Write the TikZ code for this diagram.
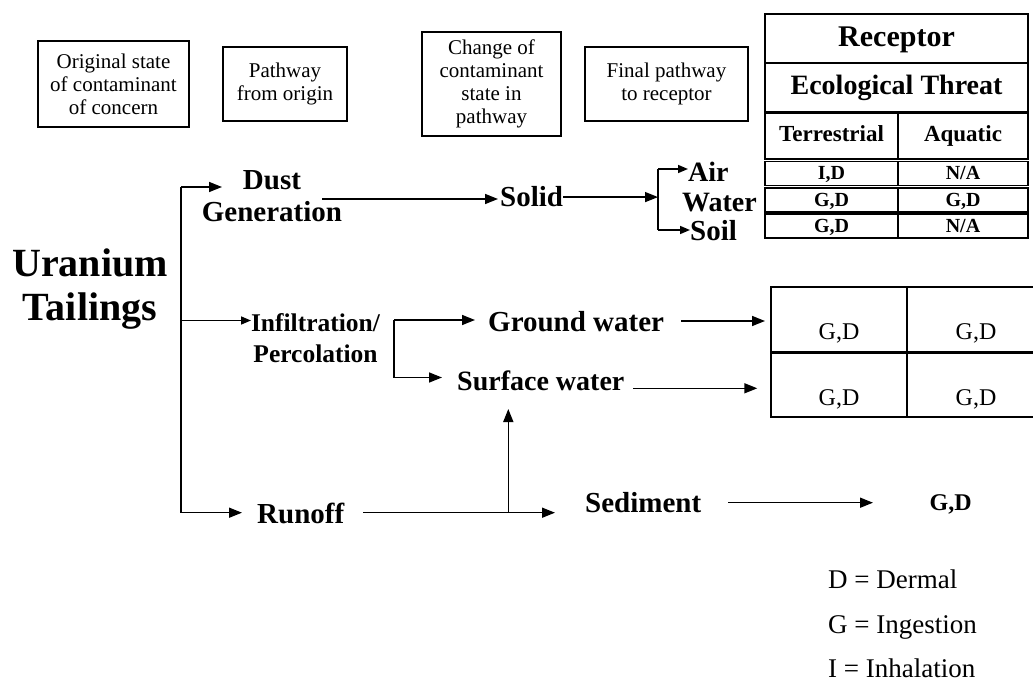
\documentclass[tikz,border=0pt]{standalone}
\usepackage{fontspec}
\setmainfont{Liberation Serif}
\newfontfamily\tnr{Liberation Serif}
\usetikzlibrary{arrows.meta}
\begin{document}
\begin{tikzpicture}[x=1pt,y=-1pt,
  lw/.style={line width=1.5pt},
  arr/.style={lw,-{Triangle[length=13pt,width=10pt]}},
  sarr/.style={lw,-{Triangle[length=10pt,width=8pt]}},
  hdr/.style={draw,lw,align=center,inner sep=0pt,font=\tnr\fontsize{21}{23}\selectfont},
  bt/.style={inner sep=0pt,font=\tnr\bfseries\fontsize{29}{32}\selectfont},
  cell/.style={draw,lw,inner sep=0pt,font=\tnr\bfseries\fontsize{20}{24}\selectfont},
  dcell/.style={cell,text height=16pt,text depth=3pt,minimum height=24pt},
  gcell/.style={draw,lw,inner sep=0pt,text height=41pt,text depth=0pt,font=\tnr\fontsize{24}{28}\selectfont},
  leg/.style={anchor=base west,inner sep=0pt,font=\tnr\fontsize{27}{30}\selectfont}
]
\clip (0,0) rectangle (1033,684);
\fill[white] (0,0) rectangle (1033,684);

% header boxes
\node[hdr,minimum width=151pt,minimum height=86pt] (h1) at (113.5,84) {Original state\\of contaminant\\of concern};
\node[hdr,minimum width=124pt,minimum height=74pt] (h2) at (285,84) {Pathway\\from origin};
\node[hdr,minimum width=139pt,minimum height=104pt] (h3) at (491.5,84) {Change of\\contaminant\\state in\\pathway};
\node[hdr,minimum width=163pt,minimum height=74pt] (h4) at (666.5,84) {Final pathway\\to receptor};

% receptor table
\node[cell,minimum width=263pt,minimum height=49pt,text height=23pt,text depth=6pt,font=\tnr\bfseries\fontsize{30}{34}\selectfont] (rec) at (896.5,38.5) {Receptor};
\node[cell,minimum width=263pt,minimum height=49pt,font=\tnr\bfseries\fontsize{28}{32}\selectfont] (eco) at (896.5,87.5) {Ecological Threat};
\node[cell,minimum width=133pt,minimum height=46pt,text height=17pt,text depth=5pt,font=\tnr\bfseries\fontsize{23}{27}\selectfont] (ter) at (831.5,136) {Terrestrial};
\node[cell,minimum width=130pt,minimum height=46pt,text height=17pt,text depth=5pt,font=\tnr\bfseries\fontsize{23}{27}\selectfont] (aqu) at (963,136) {Aquatic};
\node[dcell,minimum width=133pt] (t1) at (831.5,173.5) {I,D};
\node[dcell,minimum width=130pt] (a1) at (963,173.5) {N/A};
\node[dcell,minimum width=133pt] (t2) at (831.5,200) {G,D};
\node[dcell,minimum width=130pt] (a2) at (963,200) {G,D};
\node[dcell,minimum width=133pt] (t3) at (831.5,226) {G,D};
\node[dcell,minimum width=130pt] (a3) at (963,226) {N/A};

% water table
\node[gcell,minimum width=136pt,minimum height=64.5pt] (m11) at (839,319.25) {G,D};
\node[gcell,minimum width=138pt,minimum height=64.5pt] (m12) at (976,319.25) {G,D};
\node[gcell,minimum width=136pt,minimum height=64pt] (m21) at (839,385) {G,D};
\node[gcell,minimum width=138pt,minimum height=64pt] (m22) at (976,385) {G,D};

% flow texts
\node[inner sep=0pt,align=center,font=\tnr\bfseries\fontsize{40}{44}\selectfont] (ut) at (90,289.3) {Uranium\\Tailings};
\node[bt,align=center] (dust) at (272,196.4) {Dust\\Generation};
\node[bt,anchor=base west] (solid) at (500,207) {Solid};
\node[bt,anchor=base west,font=\tnr\bfseries\fontsize{28}{32}\selectfont] (air) at (688,182) {Air};
\node[bt,anchor=base west,font=\tnr\bfseries\fontsize{28}{32}\selectfont] (water) at (682,212) {Water};
\node[bt,anchor=base west,font=\tnr\bfseries\fontsize{29}{32}\selectfont] (soil) at (690,241) {Soil};
\node[inner sep=0pt,align=center,font=\tnr\bfseries\fontsize{25.5}{31}\selectfont] (inf) at (315.5,337.9) {Infiltration/\\Percolation};
\node[bt,anchor=base west] (gw) at (488,332) {Ground water};
\node[bt,anchor=base west,font=\tnr\bfseries\fontsize{28}{32}\selectfont] (sw) at (457,390) {Surface water};
\node[bt,anchor=base west] (run) at (257,523) {Runoff};
\node[bt,anchor=base west] (sed) at (585,512) {Sediment};
\node[inner sep=0pt,anchor=base west,font=\tnr\bfseries\fontsize{24}{28}\selectfont] (gd) at (929.5,510) {G,D};

% legend
\node[leg] (lD) at (828,588) {D = Dermal};
\node[leg] (lG) at (828,633) {G = Ingestion};
\node[leg] (lI) at (828,677) {I = Inhalation};

% coordinates
\coordinate (jtop) at (181,187);
\coordinate (jinf) at (181,320.5);
\coordinate (jrun) at (181,512.7);
\coordinate (dustIn) at (222,187);
\coordinate (dsOut) at (322,199);
\coordinate (solidIn) at (498,199);
\coordinate (bvtop) at (658,169);
\coordinate (bvbot) at (658,230);
\coordinate (infIn) at (251,320.5);
\coordinate (b2top) at (394,320);
\coordinate (b2bot) at (394,377.5);
\coordinate (gwIn) at (475,320);
\coordinate (swIn) at (442,377.5);
\coordinate (gwOut) at (681,321);
\coordinate (gwTab) at (765,321);
\coordinate (swOut) at (633,388.3);
\coordinate (swTab) at (757.3,388.3);
\coordinate (runIn) at (242,512.7);
\coordinate (runOut) at (363,512.7);
\coordinate (sedIn) at (555,512.7);
\coordinate (jv) at (508.3,512.7);
\coordinate (swUp) at (508.3,409);
\coordinate (sedOut) at (728,502.7);
\coordinate (gdIn) at (873,502.7);

% connectors
\draw[lw] (jtop) -- (jrun);
\draw[arr] (jtop) -- (dustIn);
\draw[arr] (dsOut) -- (solidIn);
\draw[arr] (solid.east) -- (solid.east -| bvtop);
\draw[lw] (bvtop) -- (bvbot);
\draw[sarr] (bvtop) -- (air.west |- bvtop);
\draw[sarr] (bvbot) -- (soil.west |- bvbot);
\draw[sarr] (jinf) -- (infIn);
\draw[arr] (b2top) -- (gwIn);
\draw[arr] (b2top) -- (b2bot) -- (swIn);
\draw[arr] (gwOut) -- (gwTab);
\draw[arr] (swOut) -- (swTab);
\draw[arr] (jrun) -- (runIn);
\draw[arr] (runOut) -- (sedIn);
\draw[arr] (jv) -- (swUp);
\draw[arr] (sedOut) -- (gdIn);
\end{tikzpicture}
\end{document}
